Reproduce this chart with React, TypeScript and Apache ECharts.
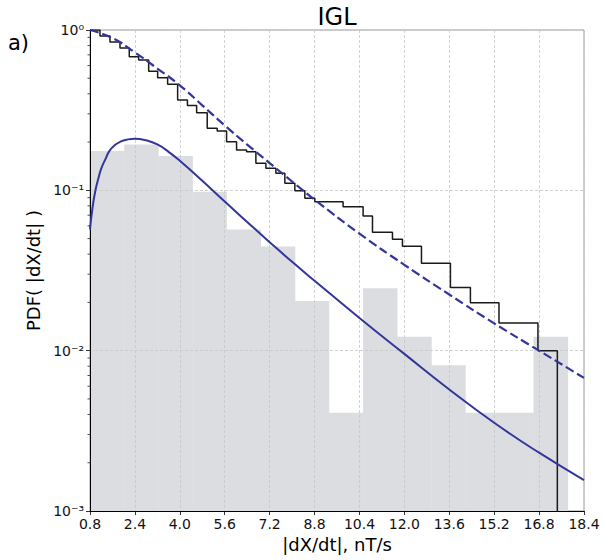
import React, { useEffect, useRef } from 'react';
import * as echarts from 'echarts';

// ---- axes ----
const X0 = 0.8; // left end of the x axis (axis is drawn shifted so ticks start at X0)
const X_MAX = 18.4;
const X_STEP = 1.6;
const Y_MIN = 0.001;
const Y_MAX = 1;
const minorTickVals = [
  0.002, 0.003, 0.004, 0.005, 0.006, 0.007, 0.008, 0.009,
  0.02, 0.03, 0.04, 0.05, 0.06, 0.07, 0.08, 0.09,
  0.2, 0.3, 0.4, 0.5, 0.6, 0.7, 0.8, 0.9,
];

// ---- histogram (PDF density) ----
const histEdges = [0.8, 2.02, 3.23, 4.45, 5.66, 6.88, 8.1, 9.31, 10.53, 11.74, 12.96, 14.17, 15.39, 16.6, 17.82];
const histDensity = [0.176, 0.193, 0.164, 0.098, 0.057, 0.0447, 0.0204, 0.0041, 0.0245, 0.0122, 0.0081, 0.0041, 0.0041, 0.0122];

// ---- empirical complementary CDF (step line) ----
const stepX = [0.8, 1.156, 1.512, 1.868, 2.199, 2.534, 2.89, 3.21, 3.566, 3.922, 4.271, 4.599, 4.976, 5.332, 5.666, 6.022, 6.379, 6.71, 7.066, 7.422, 7.742, 8.098, 8.454, 8.81, 9.817, 10.53, 10.864, 11.576, 11.932, 12.609, 13.641, 14.353, 15.371, 16.759, 17.45];
const stepY = [1.0, 0.917, 0.842, 0.772, 0.682, 0.65, 0.553, 0.504, 0.458, 0.366, 0.338, 0.305, 0.2436, 0.2344, 0.201, 0.1785, 0.174, 0.1474, 0.1372, 0.1277, 0.1106, 0.0995, 0.0892, 0.0849, 0.079, 0.0692, 0.0547, 0.0495, 0.0448, 0.0351, 0.0248, 0.0199, 0.0149, 0.01, 0.0005];

// ---- fitted complementary CDF (dashed) ----
const fitCcdfX = [0.8, 1.6, 2.4, 3.2, 4.0, 4.8, 5.6, 6.4, 7.2, 8.0, 8.8, 10.4, 12.0, 13.6, 15.2, 16.8, 18.4];
const fitCcdfY = [1.0, 0.891, 0.724, 0.575, 0.452, 0.339, 0.254, 0.193, 0.148, 0.1135, 0.0875, 0.0537, 0.0343, 0.0224, 0.0148, 0.01, 0.00676];

// ---- fitted PDF (solid) ----
const fitPdfX = [0.8, 0.9, 1.0, 1.1, 1.2, 1.35, 1.5, 1.7, 1.9, 2.1, 2.4, 2.8, 3.2, 3.6, 4.0, 4.8, 5.6, 6.4, 7.2, 8.0, 8.8, 10.4, 12.0, 13.6, 15.2, 16.8, 18.4];
const fitPdfY = [0.0571, 0.0804, 0.1012, 0.1189, 0.1365, 0.1567, 0.177, 0.1923, 0.2018, 0.207, 0.2099, 0.2051, 0.1932, 0.1738, 0.153, 0.1148, 0.0851, 0.0635, 0.0475, 0.0358, 0.0273, 0.016, 0.00955, 0.00573, 0.00355, 0.00231, 0.00156];

const SUP: Record<string, string> = { '-': '⁻', '0': '⁰', '1': '¹', '2': '²', '3': '³' };
const sup = (n: number) => String(n).split('').map((c) => SUP[c] ?? c).join('');

const BLUE = '#32369a';
const FONT = 'DejaVu Sans';

export default function App() {
  const ref = useRef<HTMLDivElement>(null);
  useEffect(() => {
    if (!ref.current) return;
    const chart = echarts.init(ref.current, undefined, { renderer: 'svg' });
    const gridLine = { show: true, lineStyle: { color: '#c6c6c6', type: [3, 2], width: 0.8 } };
    const option: any = {
      animation: false,
      textStyle: { fontFamily: FONT },
      grid: { left: 90, right: 19, top: 30, bottom: 49, show: true, borderColor: '#9a9a9a', borderWidth: 1, backgroundColor: 'transparent' },
      xAxis: {
        type: 'value', min: 0, max: X_MAX - X0, interval: X_STEP, z: 1,
        axisLine: { show: true, onZero: false, lineStyle: { color: '#000', width: 1 } },
        axisTick: { show: true, length: 4, lineStyle: { color: '#000', width: 0.8 } },
        axisLabel: { margin: 6, fontSize: 14, color: '#111', fontFamily: FONT, showMinLabel: true, showMaxLabel: true,
          formatter: (v: number) => (v + X0).toFixed(1) },
        splitLine: gridLine,
        name: '|dX/dt|, nT/s', nameLocation: 'middle', nameGap: 23,
        nameTextStyle: { fontSize: 18, color: '#000', fontFamily: FONT },
      },
      yAxis: {
        type: 'log', logBase: 10, min: Y_MIN, max: Y_MAX, z: 1,
        axisLine: { show: true, onZero: false, lineStyle: { color: '#000', width: 1 } },
        axisTick: { show: true, length: 4, lineStyle: { color: '#000', width: 0.8 } },
        axisLabel: { margin: 6, fontSize: 14, color: '#111', fontFamily: FONT, showMinLabel: true, showMaxLabel: true,
          formatter: (v: number) => '10' + sup(Math.round(Math.log10(v))) },
        splitLine: gridLine,
        name: 'PDF( |dX/dt| )', nameLocation: 'middle', nameGap: 44, nameRotate: 90,
        nameTextStyle: { fontSize: 18, color: '#000', fontFamily: FONT },
      },
      graphic: [
        { type: 'text', x: 337, y: 17, style: { text: 'IGL', font: `24px "${FONT}"`, fill: '#000', textAlign: 'center', textVerticalAlign: 'middle' } },
        { type: 'text', x: 8, y: 43, style: { text: 'a)', font: `21px "${FONT}"`, fill: '#000', textAlign: 'left', textVerticalAlign: 'middle' } },
      ],
      series: [
        {
          type: 'custom', z: 0, silent: true, clip: true,
          encode: { x: [0, 1], y: 2 },
          data: histDensity.map((d, i) => [histEdges[i] - X0, histEdges[i + 1] - X0, d]),
          renderItem: (_p: any, api: any) => {
            const p0 = api.coord([api.value(0), api.value(2)]);
            const p1 = api.coord([api.value(1), Y_MIN]);
            return { type: 'rect', shape: { x: p0[0], y: p0[1], width: p1[0] - p0[0] + 0.4, height: p1[1] - p0[1] }, style: { fill: '#dcdde0' } };
          },
        },
        {
          type: 'custom', z: 5, silent: true, clip: false,
          encode: { x: 0, y: 1 },
          data: minorTickVals.map((v) => [0, v]),
          renderItem: (_p: any, api: any) => {
            const p = api.coord([api.value(0), api.value(1)]);
            return { type: 'line', shape: { x1: p[0] - 2.5, y1: p[1], x2: p[0], y2: p[1] }, style: { stroke: '#000', lineWidth: 0.7 } };
          },
        },
        {
          type: 'line', z: 3, step: 'end', symbol: 'none', showSymbol: false, clip: true, silent: true,
          data: stepX.map((x, i) => [x - X0, stepY[i]]),
          lineStyle: { color: '#1a1a1a', width: 1.5 },
        },
        {
          type: 'line', z: 4, smooth: 0.5, symbol: 'none', showSymbol: false, clip: true, silent: true,
          data: fitCcdfX.map((x, i) => [x - X0, fitCcdfY[i]]),
          lineStyle: { color: BLUE, width: 2.2, type: [9, 4] },
        },
        {
          type: 'line', z: 4, smooth: 0.5, symbol: 'none', showSymbol: false, clip: true, silent: true,
          data: fitPdfX.map((x, i) => [x - X0, fitPdfY[i]]),
          lineStyle: { color: BLUE, width: 2 },
        },
      ],
    };
    chart.setOption(option);
    return () => chart.dispose();
  }, []);
  return <div ref={ref} style={{ position: 'fixed', left: 0, top: 0, width: 603, height: 560, background: '#fff' }} />;
}
